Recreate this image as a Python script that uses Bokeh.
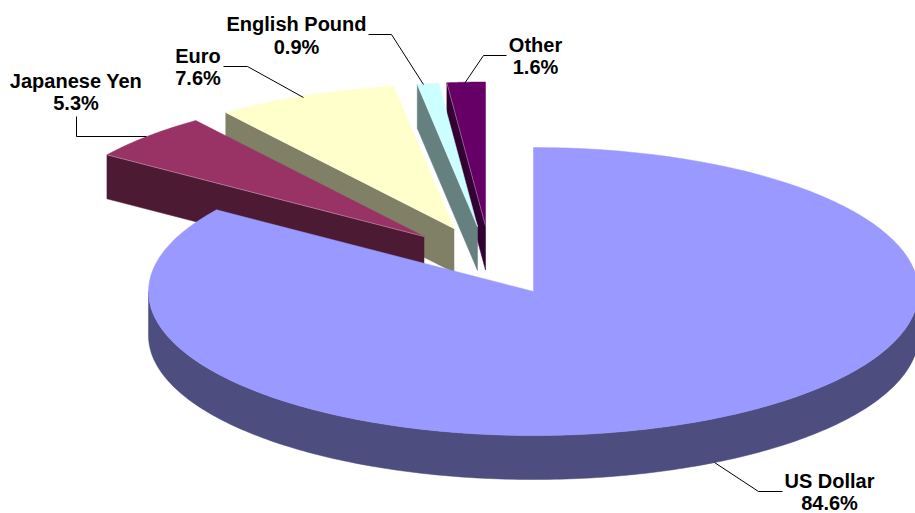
import numpy as np
from bokeh.core.properties import value
from bokeh.embed import file_html
from bokeh.models import ColumnDataSource, Range1d
from bokeh.plotting import figure
from bokeh.resources import INLINE

# Data
categories = ["US Dollar", "Japanese Yen", "Euro", "English Pound", "Other"]
shares = [84.6, 5.3, 7.6, 0.9, 1.6]

# Styles
top_colors = ["#9999FF", "#993366", "#FFFFCC", "#CCFFFF", "#660066"]
side_colors = ["#4D4D80", "#4D1A33", "#808066", "#668080", "#330033"]

# Layout of the 3D pie (screen pixels of the page)
RX, RY, DEPTH = 385.0, 144.0, 44.0
tips = {
    "US Dollar": (533, 291),
    "Japanese Yen": (423.5, 236),
    "Euro": (453.5, 228),
    "English Pound": (477, 226),
    "Other": (485, 225.5),
}
label_pos = {
    "US Dollar": (829, 480.5, 502),
    "Japanese Yen": (75.5, 80, 102),
    "Euro": (197.5, 55.5, 77.5),
    "English Pound": (296, 23, 46),
    "Other": (535, 44.5, 66.5),
}
leaders = {
    "US Dollar": ([782, 758, 714], [491, 491, 462]),
    "Japanese Yen": ([76, 76, 146], [116, 136, 136]),
    "Euro": ([223, 247, 303], [66, 66, 97]),
    "English Pound": ([368, 391, 423], [34, 34, 84]),
    "Other": ([506, 483, 464], [55, 55, 83]),
}
draw_order = ["Euro", "Japanese Yen", "Other", "English Pound", "US Dollar"]

p = figure(
    width=915, height=513, output_backend="svg", toolbar_location=None,
    x_range=Range1d(0, 915), y_range=Range1d(513, 0),
    min_border=0, min_border_left=0, min_border_right=0, min_border_top=0, min_border_bottom=0,
    outline_line_color=None, background_fill_color="white", border_fill_color="white",
)
p.axis.visible = False
p.grid.visible = False

# Sweep of each slice, clockwise from twelve o'clock
edges = np.concatenate([[0.0], np.cumsum(shares)]) * 3.6
sweeps = {c: (edges[i], edges[i + 1]) for i, c in enumerate(categories)}


def rim(name, a0, a1, n=120):
    cx, cy = tips[name]
    t = np.radians(np.linspace(a0, a1, n))
    return cx + RX * np.sin(t), cy - RY * np.cos(t)


for name in draw_order:
    i = categories.index(name)
    cx, cy = tips[name]
    a0, a1 = sweeps[name]
    top, side = top_colors[i], side_colors[i]
    if name == "US Dollar":
        # the curved outer wall seen at the front
        x, y = rim(name, 90, 270, 200)
        p.patch(np.r_[x, x[::-1]], np.r_[y, y[::-1] + DEPTH], fill_color=side, line_color=side, line_width=0.5)
    else:
        # the flat cut wall that faces the viewer
        ex, ey = rim(name, a0, a0, 1)
        p.patch([ex[0], cx, cx, ex[0]], [ey[0], cy, cy + DEPTH, ey[0] + DEPTH],
                fill_color=side, line_color=side, line_width=0.5)
    x, y = rim(name, a0, a1)
    p.patch(np.r_[cx, x], np.r_[cy, y], fill_color=top, line_color=top, line_width=0.5)
    if name != "US Dollar":
        # faint light seam where the top meets the cut wall
        ex, ey = rim(name, a0, a0, 1)
        p.line([ex[0], cx], [ey[0], cy], line_color="white", line_alpha=0.3, line_width=1)

# Leader lines
for name in categories:
    lx, ly = leaders[name]
    p.line(lx, ly, line_color="black", line_width=1)

# Labels: name on the first line, share on the second
tx, ty, tt = [], [], []
for name, share in zip(categories, shares):
    x, y1, y2 = label_pos[name]
    tx += [x, x]
    ty += [y1, y2]
    tt += [name, f"{share}%"]
p.text("x", "y", "t", source=ColumnDataSource(dict(x=tx, y=ty, t=tt)),
       text_font=value("Liberation Sans"), text_font_style="bold", text_font_size="20px",
       text_color="black", text_align="center", text_baseline="middle")

open("out.html", "w").write(file_html(p, INLINE))
